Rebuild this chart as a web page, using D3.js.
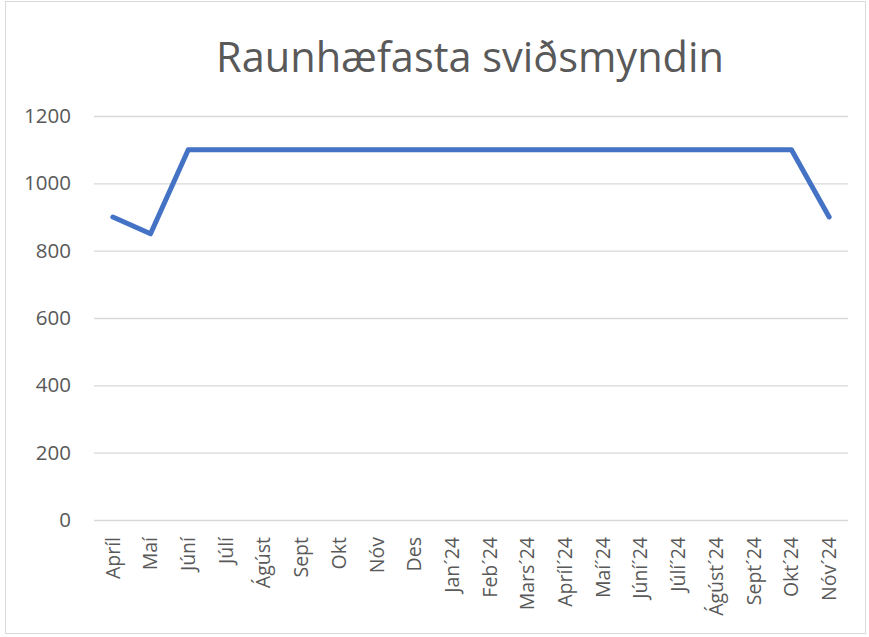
<!DOCTYPE html>
<html><head><meta charset="utf-8">
<script src="https://cdn.jsdelivr.net/npm/d3@7"></script>
<style>body{margin:0;background:#fff}svg{display:block}</style>
</head><body>
<script>
const categories = ["Apríl","Maí","Júní","Júlí","Ágúst","Sept","Okt","Nóv","Des","Jan´24","Feb´24","Mars´24","Apríl´24","Maí´24","Júní´24","Júlí´24","Ágúst´24","Sept´24","Okt´24","Nóv´24"];
const values = [900,850,1100,1100,1100,1100,1100,1100,1100,1100,1100,1100,1100,1100,1100,1100,1100,1100,1100,900];
const yTicks = [0,200,400,600,800,1000,1200];
const title = "Raunhæfasta sviðsmyndin";

(function(){
const W = 869, H = 637;
const svg = d3.select("body").append("svg").attr("width", W).attr("height", H);
svg.append("rect").attr("x",5.5).attr("y",1.5).attr("width",860).attr("height",632)
  .attr("fill","#fff").attr("stroke","#d9d9d9").attr("stroke-width",1);

const mL = 94, mR = 848, mT = 116, mB = 520;
const x = d3.scaleBand().domain(categories).range([mL, mR]);
const y = d3.scaleLinear().domain([0,1200]).range([mB, mT]);
const font = "'Open Sans', sans-serif";

svg.append("text").attr("x", 470).attr("y", 72).attr("text-anchor","middle")
  .attr("font-family", font).attr("font-size", 41.5).attr("fill","#595959").text(title);

const gy = svg.append("g").attr("transform", `translate(${mL},0)`)
  .call(d3.axisLeft(y).tickValues(yTicks).tickSize(-(mR-mL)).tickPadding(23).tickFormat(d3.format("d")));
gy.select(".domain").remove();
gy.selectAll(".tick line").attr("stroke","#d9d9d9").attr("stroke-width",1.3);
gy.selectAll(".tick text").attr("font-family", font).attr("font-size", 20.5).attr("fill","#595959");

const gx = svg.append("g").attr("transform", `translate(0,${mB})`)
  .call(d3.axisBottom(x).tickSize(0).tickPadding(0));
gx.select(".domain").remove();
gx.selectAll(".tick text")
  .attr("font-family", font).attr("font-size", 19.5).attr("fill","#595959")
  .attr("text-anchor","end").attr("dy","0.35em")
  .attr("transform","translate(0,17) rotate(-90)").attr("x",0).attr("y",0);

const line = d3.line().x((d,i)=>x(categories[i]) + x.bandwidth()/2).y(d=>y(d));
svg.append("path").datum(values).attr("d", line).attr("fill","none")
  .attr("stroke","#4472C4").attr("stroke-width",5).attr("stroke-linejoin","round").attr("stroke-linecap","round");
})();
</script>
</body></html>
